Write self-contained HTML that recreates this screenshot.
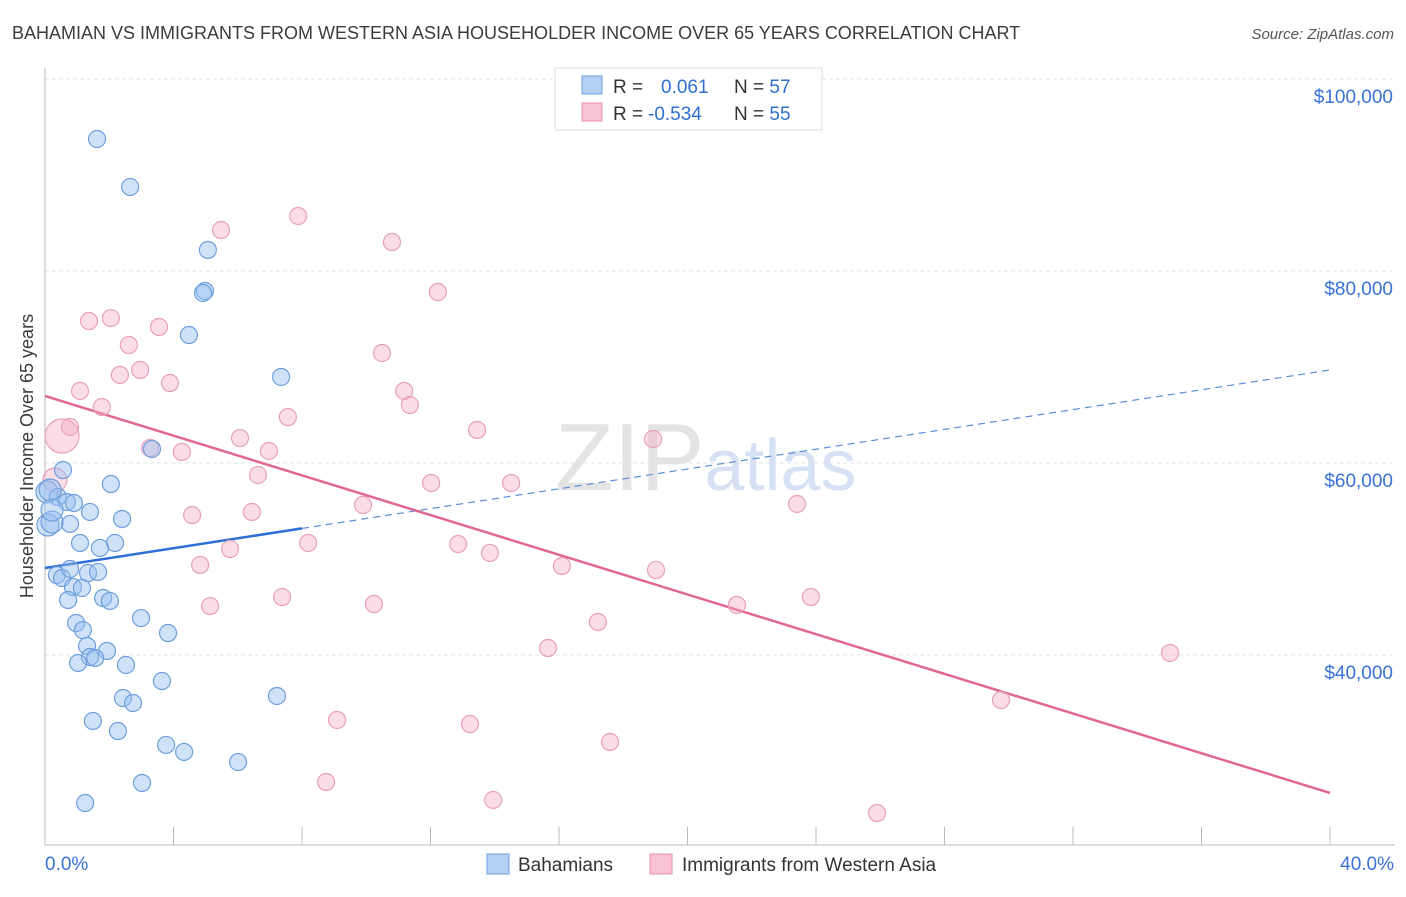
<!DOCTYPE html>
<html><head><meta charset="utf-8"><style>
body{margin:0;background:#fff;font-family:"Liberation Sans",sans-serif;}
svg text{font-family:"Liberation Sans",sans-serif;}
</style></head><body>
<svg id="chart" width="1406" height="892" xmlns="http://www.w3.org/2000/svg">
<text x="12" y="39" font-size="18" fill="#3c3c3c">BAHAMIAN VS IMMIGRANTS FROM WESTERN ASIA HOUSEHOLDER INCOME OVER 65 YEARS CORRELATION CHART</text>
<text x="1394" y="39" font-size="15" fill="#555" text-anchor="end" font-style="italic">Source: ZipAtlas.com</text>
<text x="555" y="490" font-size="96" fill="#e4e4e4" font-family="Liberation Serif">ZIP<tspan fill="#d6e2f3" font-family="Liberation Sans" font-size="72">atlas</tspan></text>
<g id="grid"></g>
<g id="axes"></g>
<g id="lines"></g>
<g id="pts"></g>
<text transform="translate(33,456) rotate(-90)" font-size="18" fill="#3c3c3c" text-anchor="middle">Householder Income Over 65 years</text>
<g>
<rect x="555" y="68" width="267" height="62" fill="#fff" stroke="#ddd"/>
<rect x="582" y="76" width="20" height="18" fill="#b4d0f3" stroke="#6e9fdc"/>
<rect x="582" y="103" width="20" height="18" fill="#f8c4d4" stroke="#e590ab"/>
<text x="613" y="93" font-size="19" fill="#333">R = <tspan fill="#2f6fd0" x="661">0.061</tspan><tspan x="734" fill="#333">N = </tspan><tspan fill="#2f6fd0">57</tspan></text>
<text x="613" y="120" font-size="19" fill="#333">R = <tspan fill="#2f6fd0" x="648">-0.534</tspan><tspan x="734" fill="#333">N = </tspan><tspan fill="#2f6fd0">55</tspan></text>
</g>
<g>
<rect x="487" y="854" width="22" height="20" fill="#b4d0f3" stroke="#6e9fdc"/>
<text x="518" y="871" font-size="19" fill="#333">Bahamians</text>
<rect x="650" y="854" width="22" height="20" fill="#f8c4d4" stroke="#e590ab"/>
<text x="682" y="871" font-size="19" fill="#333">Immigrants from Western Asia</text>
</g>
</svg>
<script>
const yTicks=[40000,60000,80000,100000];
const yTickLabels=["$40,000","$60,000","$80,000","$100,000"];
const xTickLabels=["0.0%","40.0%"];
const blueX=[1.62,2.65,5.07,4.98,4.92,4.48,7.35,3.33,0.56,2.05,0.06,0.40,0.68,0.90,1.40,2.40,0.78,0.09,0.22,1.09,2.18,1.71,0.37,0.53,0.78,1.34,1.65,0.87,1.15,0.72,1.81,2.02,2.99,0.97,1.18,3.83,1.31,1.93,1.40,1.56,1.03,2.52,3.64,2.43,2.74,7.22,1.49,2.27,3.77,4.33,6.01,3.02,1.25,0.16,0.22];
const blueY=[93.75,88.75,82.19,77.92,77.71,73.33,68.96,61.46,59.27,57.81,56.98,56.46,55.94,55.83,54.90,54.17,53.65,53.54,53.85,51.67,51.67,51.15,48.33,48.02,48.96,48.54,48.65,47.08,46.98,45.73,45.94,45.63,43.85,43.33,42.60,42.29,40.94,40.42,39.79,39.69,39.17,38.96,37.29,35.52,35.00,35.73,33.13,32.08,30.63,29.90,28.85,26.67,24.58,57.19,55.10];
const pinkX=[7.88,5.48,10.80,12.23,1.37,2.05,3.55,2.61,10.49,2.33,2.96,1.09,3.89,11.18,11.36,1.77,7.56,0.78,0.53,13.45,6.07,3.27,4.26,18.93,6.97,6.63,12.02,14.51,0.31,9.90,23.41,4.58,6.44,8.19,12.86,13.85,5.76,4.83,16.09,19.02,7.38,10.24,5.14,21.54,23.84,17.21,15.66,35.02,29.76,9.09,13.23,17.59,8.75,13.95,25.90];
const pinkY=[85.73,84.27,83.02,77.81,74.79,75.10,74.17,72.29,71.46,69.17,69.69,67.50,68.33,67.50,66.04,65.83,64.79,63.75,62.81,63.44,62.60,61.56,61.15,62.50,61.25,58.75,57.92,57.92,58.23,55.63,55.73,54.58,54.90,51.67,51.56,50.63,51.04,49.38,49.27,48.85,46.04,45.31,45.10,45.21,46.04,43.44,40.73,40.21,35.31,33.23,32.81,30.94,26.77,24.90,23.54];
const blueTrend=[49.06,69.69]; // value at 0% and 40%
const pinkTrend=[66.98,25.63];
const NS="http://www.w3.org/2000/svg";
const xs=v=>45+v/40*1285;
const ys=v=>79+(100-v)/20*192; // v in thousands
function mk(tag,attrs,parent){const e=document.createElementNS(NS,tag);for(const k in attrs)e.setAttribute(k,attrs[k]);document.getElementById(parent).appendChild(e);return e;}
yTicks.forEach((t,i)=>{
 const y=ys(t/1000);
 const g=mk('line',{x1:45,x2:1395,y1:y,y2:y,stroke:'#e3e3e3','stroke-dasharray':'4,3'},'grid');
 
 
 const l=mk('text',{x:1393,y:y+24,'font-size':19,fill:'#3a72d6','text-anchor':'end'},'axes');
 l.textContent=yTickLabels[i];
 
 
});
const ax=mk('line',{x1:45,x2:45,y1:68,y2:845,stroke:'#bbb'},'axes');


const bx=mk('line',{x1:45,x2:1395,y1:845,y2:845,stroke:'#bbb'},'axes');


for(let i=0;i<=10;i++){
 const x=xs(i*4);
 const t=mk('line',{x1:x,x2:x,y1:827,y2:845,stroke:'#bbb'},'axes');
 
 
}
[[0,'start',45],[1,'end',1394]].forEach(([i,a,x])=>{
 const l=mk('text',{x:x,y:870,'font-size':19,fill:'#3a72d6','text-anchor':a},'axes');
 l.textContent=xTickLabels[i];
 
 
});
// trend lines
const bv=x=>blueTrend[0]+(blueTrend[1]-blueTrend[0])*x/40;
const pv=x=>pinkTrend[0]+(pinkTrend[1]-pinkTrend[0])*x/40;
const l1=mk('line',{x1:xs(0),y1:ys(bv(0)),x2:xs(8),y2:ys(bv(8)),stroke:'#2d6fd4','stroke-width':2.5},'lines');


const l2=mk('line',{x1:xs(8),y1:ys(bv(8)),x2:xs(40),y2:ys(bv(40)),stroke:'#5b8ed8','stroke-width':1.2,'stroke-dasharray':'7,5'},'lines');


const l3=mk('line',{x1:xs(0),y1:ys(pv(0)),x2:xs(40),y2:ys(pv(40)),stroke:'#e06890','stroke-width':2.5},'lines');


pinkX.forEach((x,i)=>{
 const r=(i===18)?17:(i===28?12:8.5);
 const c=mk('circle',{cx:xs(x),cy:ys(pinkY[i]),r:r,fill:'rgba(245,170,195,0.4)',stroke:'#e8a0b8','stroke-width':1.2},'pts');
 
 
});
blueX.forEach((x,i)=>{
 const r=(x<0.3)?11:8.5;
 const c=mk('circle',{cx:xs(x),cy:ys(blueY[i]),r:r,fill:'rgba(150,190,240,0.45)',stroke:'#6e9fdc','stroke-width':1.2},'pts');
 
 
});
</script>
</body></html>
